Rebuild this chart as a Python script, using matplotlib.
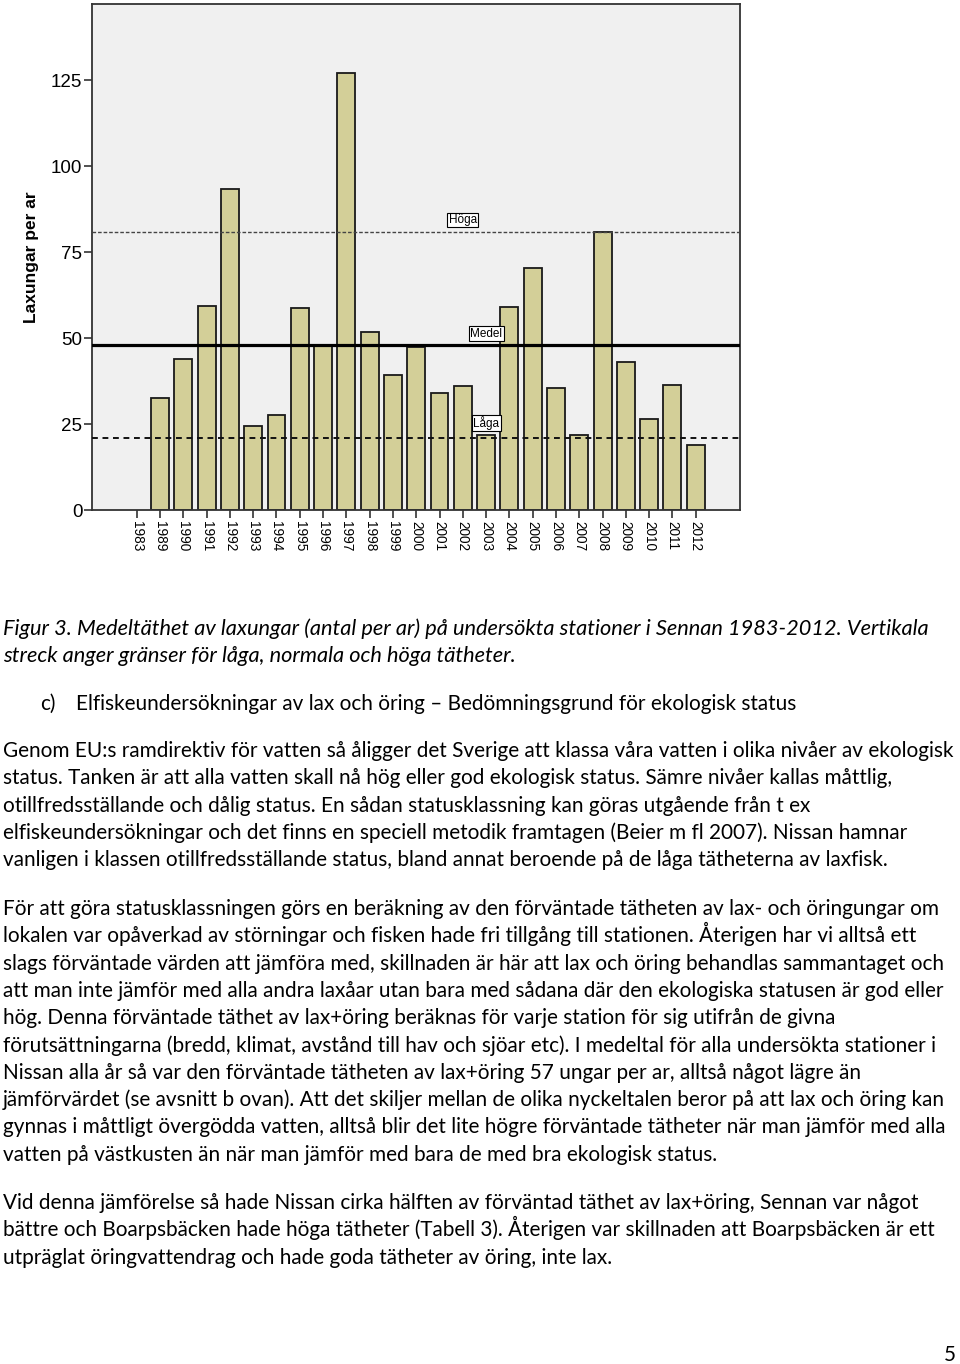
import matplotlib
matplotlib.use("Agg")
import matplotlib.pyplot as plt
import numpy as np

W, H = 960, 1364

# data
years = ["1983", "1989", "1990", "1991", "1992", "1993", "1994", "1995", "1996",
         "1997", "1998", "1999", "2000", "2001", "2002", "2003", "2004", "2005",
         "2006", "2007", "2008", "2009", "2010", "2011", "2012"]
laxungar = [0, 32.6, 44.0, 59.5, 93.5, 24.4, 27.6, 58.7, 48.1, 127.1, 51.7, 39.2,
            47.6, 34.2, 36.2, 21.8, 59.0, 70.5, 35.6, 21.8, 81.0, 43.1, 26.5, 36.3, 19.0]

hoga = 81.0
medel = 48.1
laga = 21.1

yticks = [0, 25, 50, 75, 100, 125]

caption = [
    "Figur 3. Medeltäthet av laxungar (antal per ar) på undersökta stationer i Sennan 1983-2012. Vertikala",
    "streck anger gränser för låga, normala och höga tätheter.",
]
heading = "Elfiskeundersökningar av lax och öring – Bedömningsgrund för ekologisk status"
paragraphs = [
    [
        "Genom EU:s ramdirektiv för vatten så åligger det Sverige att klassa våra vatten i olika nivåer av ekologisk",
        "status. Tanken är att alla vatten skall nå hög eller god ekologisk status. Sämre nivåer kallas måttlig,",
        "otillfredsställande och dålig status. En sådan statusklassning kan göras utgående från t ex",
        "elfiskeundersökningar och det finns en speciell metodik framtagen (Beier m fl 2007). Nissan hamnar",
        "vanligen i klassen otillfredsställande status, bland annat beroende på de låga tätheterna av laxfisk.",
    ],
    [
        "För att göra statusklassningen görs en beräkning av den förväntade tätheten av lax- och öringungar om",
        "lokalen var opåverkad av störningar och fisken hade fri tillgång till stationen. Återigen har vi alltså ett",
        "slags förväntade värden att jämföra med, skillnaden är här att lax och öring behandlas sammantaget och",
        "att man inte jämför med alla andra laxåar utan bara med sådana där den ekologiska statusen är god eller",
        "hög. Denna förväntade täthet av lax+öring beräknas för varje station för sig utifrån de givna",
        "förutsättningarna (bredd, klimat, avstånd till hav och sjöar etc). I medeltal för alla undersökta stationer i",
        "Nissan alla år så var den förväntade tätheten av lax+öring 57 ungar per ar, alltså något lägre än",
        "jämförvärdet (se avsnitt b ovan). Att det skiljer mellan de olika nyckeltalen beror på att lax och öring kan",
        "gynnas i måttligt övergödda vatten, alltså blir det lite högre förväntade tätheter när man jämför med alla",
        "vatten på västkusten än när man jämför med bara de med bra ekologisk status.",
    ],
    [
        "Vid denna jämförelse så hade Nissan cirka hälften av förväntad täthet av lax+öring, Sennan var något",
        "bättre och Boarpsbäcken hade höga tätheter (Tabell 3). Återigen var skillnaden att Boarpsbäcken är ett",
        "utpräglat öringvattendrag och hade goda tätheter av öring, inte lax.",
    ],
]


def fx(x):
    return x / W


def fy(y):
    return 1 - y / H


fig = plt.figure(figsize=(W / 100, H / 100), dpi=100)
fig.patch.set_facecolor("white")

# chart area
ax = fig.add_axes([fx(92), fy(510.3), (740 - 92) / W, (510.3 - 4) / H])
ax.set_facecolor("#f0f0f0")

x = np.arange(len(years))
vals = np.array(laxungar, dtype=float)
shown = vals > 0
ax.bar(x[shown], vals[shown], width=0.77, color="#d3cf98",
       edgecolor="#1a1a1a", linewidth=1.3, zorder=2)

ax.axhline(hoga, color="#444444", lw=1.0, ls=(0, (2.6, 1.4)), zorder=3)
ax.axhline(medel, color="black", lw=2.3, zorder=3)
ax.axhline(laga, color="#111111", lw=1.4, ls=(0, (3, 2.4)), zorder=3)

box = dict(boxstyle="square,pad=0.12", fc="white", ec="black", lw=0.8)
lab_font = dict(family="Liberation Sans", fontsize=8.5, ha="center", va="center", zorder=4)
ax.text(years.index("2002"), 84.4, "Höga", bbox=box, **lab_font)
ax.text(years.index("2003"), 51.3, "Medel", bbox=box, **lab_font)
ax.text(years.index("2003"), 25.4, "Låga", bbox=box, **lab_font)

ax.set_xlim(-1.92, 25.9)
ax.set_ylim(0, (510.3 - 4) / 3.44)
ax.set_xticks(x)
ax.set_xticklabels(years, rotation=-90, fontsize=9.8, family="Liberation Sans")
ax.set_yticks(yticks)
ax.set_yticklabels([str(v) for v in yticks], fontsize=13.5, family="Liberation Sans")
ax.tick_params(axis="both", direction="out", length=6, width=1.2, color="#333333")
ax.tick_params(axis="y", pad=1)
ax.tick_params(axis="x", pad=2)
for s in ax.spines.values():
    s.set_color("#333333")
    s.set_linewidth(1.3)

fig.text(fx(32), fy(257.5), "Laxungar per ar", rotation=90, fontsize=12.5,
         fontweight="bold", family="Liberation Sans", ha="center", va="center")

# page text
renderer = fig.canvas.get_renderer()


def fit_size(text, width_px, **kw):
    t = fig.text(0, 0, text, fontsize=10, **kw)
    w = t.get_window_extent(renderer).width
    t.remove()
    return 10 * width_px / w


body_font = "Lato"
cap_size = fit_size(caption[0], 925, family=body_font, style="italic")
body_size = fit_size(paragraphs[0][0], 950, family=body_font)
base = 8  # baseline sits a little below the visual line centre

for i, line in enumerate(caption):
    fig.text(fx(3), fy(627 + base + i * 27.3), line, fontsize=cap_size, family=body_font,
             style="italic", ha="left", va="baseline")

fig.text(fx(40), fy(702 + base), "c)", fontsize=body_size, family=body_font,
         ha="left", va="baseline")
fig.text(fx(76), fy(702 + base), heading, fontsize=body_size, family=body_font,
         ha="left", va="baseline")

starts = [749, 907, 1201]
for start, para in zip(starts, paragraphs):
    for i, line in enumerate(para):
        fig.text(fx(3), fy(start + base + i * 27.3), line, fontsize=body_size,
                 family=body_font, ha="left", va="baseline")

fig.text(fx(950), fy(1361), "5", fontsize=body_size, family=body_font,
         ha="center", va="baseline")

fig.savefig("out.png", dpi=100, facecolor="white")
